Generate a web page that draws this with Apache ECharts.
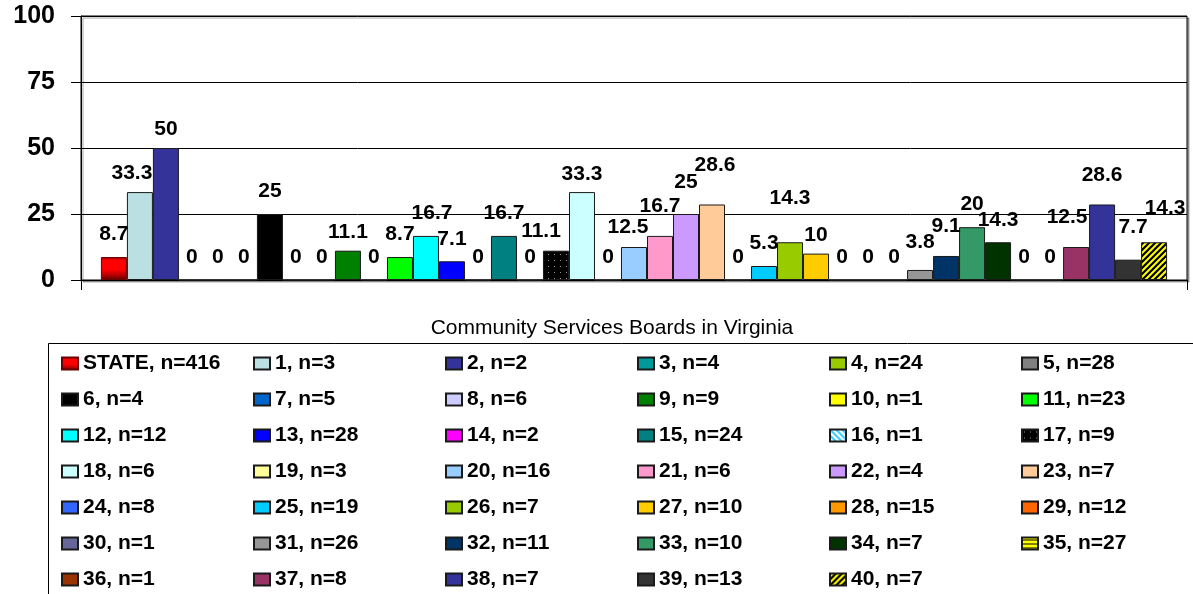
<!DOCTYPE html>
<html>
<head>
<meta charset="utf-8">
<title>Community Services Boards in Virginia</title>
<script src="https://cdn.jsdelivr.net/npm/echarts@6/dist/echarts.min.js"></script>
<style>
  html, body { margin: 0; padding: 0; background: #fff; }
  #chart { width: 1193px; height: 594px; }
</style>
</head>
<body>
<div id="chart"></div>
<script>
// Percentages by Community Services Board (STATE first, then boards 1-40)
const seriesNames = [
  'STATE, n=416', '1, n=3', '2, n=2', '3, n=4', '4, n=24', '5, n=28',
  '6, n=4', '7, n=5', '8, n=6', '9, n=9', '10, n=1', '11, n=23',
  '12, n=12', '13, n=28', '14, n=2', '15, n=24', '16, n=1', '17, n=9',
  '18, n=6', '19, n=3', '20, n=16', '21, n=6', '22, n=4', '23, n=7',
  '24, n=8', '25, n=19', '26, n=7', '27, n=10', '28, n=15', '29, n=12',
  '30, n=1', '31, n=26', '32, n=11', '33, n=10', '34, n=7', '35, n=27',
  '36, n=1', '37, n=8', '38, n=7', '39, n=13', '40, n=7'
];
const values = [
  8.7, 33.3, 50, 0, 0, 0,
  25, 0, 0, 11.1, 0, 8.7,
  16.7, 7.1, 0, 16.7, 0, 11.1,
  33.3, 0, 12.5, 16.7, 25, 28.6,
  0, 5.3, 14.3, 10, 0, 0,
  0, 3.8, 9.1, 20, 14.3, 0,
  0, 12.5, 28.6, 7.7, 14.3
];
const categories = [''];
const yTicks = { min: 0, max: 100, step: 25 };
const axisTitle = 'Community Services Boards in Virginia';

// ---- fills ----
function patternCanvas(size, draw) {
  const c = document.createElement('canvas');
  c.width = size; c.height = size;
  draw(c.getContext('2d'), size);
  return { image: c, repeat: 'repeat' };
}
const diagDown = (bg, fg) => patternCanvas(6, (g, s) => {
  g.fillStyle = bg; g.fillRect(0, 0, s, s);
  g.strokeStyle = fg; g.lineWidth = 2;
  g.beginPath();
  g.moveTo(-1, -1); g.lineTo(s + 1, s + 1);
  g.moveTo(-1, s - 1); g.lineTo(1, s + 1);
  g.moveTo(s - 1, -1); g.lineTo(s + 1, 1);
  g.stroke();
});
const diagUp = (bg, fg) => patternCanvas(6, (g, s) => {
  g.fillStyle = bg; g.fillRect(0, 0, s, s);
  g.strokeStyle = fg; g.lineWidth = 2.2;
  g.beginPath();
  g.moveTo(-1, s + 1); g.lineTo(s + 1, -1);
  g.moveTo(-1, 1); g.lineTo(1, -1);
  g.moveTo(s - 1, s + 1); g.lineTo(s + 1, s - 1);
  g.stroke();
});
const dots = patternCanvas(6, (g, s) => {
  g.fillStyle = '#000'; g.fillRect(0, 0, s, s);
  g.fillStyle = '#9a9a9a'; g.fillRect(2, 2, 1, 1);
});
const hStripes = patternCanvas(4, (g, s) => {
  g.fillStyle = '#FFFF00'; g.fillRect(0, 0, s, s);
  g.fillStyle = '#000'; g.fillRect(0, 2, s, 1);
});
const stateFill = {
  type: 'linear', x: 0, y: 0, x2: 0, y2: 1,
  colorStops: [
    { offset: 0, color: '#8B0000' },
    { offset: 0.15, color: '#FF0000' },
    { offset: 0.55, color: '#FF0000' },
    { offset: 0.8, color: '#B00000' },
    { offset: 1, color: '#5A0000' }
  ]
};

const palette = [
  stateFill, '#BBE0E3', '#333399', '#009999', '#99CC00', '#808080',
  '#000000', '#0066CC', '#CCCCFF', '#008000', '#FFFF00', '#00FF00',
  '#00FFFF', '#0000FF', '#FF00FF', '#008080', diagDown('#FFFFFF', '#33CCFF'), dots,
  '#CCFFFF', '#FFFF99', '#99CCFF', '#FF99CC', '#CC99FF', '#FFCC99',
  '#3366FF', '#00CCFF', '#99CC00', '#FFCC00', '#FF9900', '#FF6600',
  '#666699', '#969696', '#003366', '#339966', '#003300', hStripes,
  '#993300', '#993366', '#333399', '#333333', diagUp('#FFFF00', '#000000')
];

// hand-placed value labels that sit off their default spot (series index -> [dx, dy] in px)
const labelShift = {
  1: [-8, 4], 2: [0, 4], 9: [0, 4], 12: [6, 0], 17: [-15, 3], 18: [0, 5],
  20: [-6, 3], 21: [0, -7], 22: [0, -9], 23: [3, -17], 26: [0, -22],
  27: [0, 4], 31: [0, -5], 32: [0, -7], 37: [-9, -7], 38: [0, -7],
  39: [5, -10], 40: [11, -12]
};

const FONT = '"Liberation Sans", Arial, sans-serif';

const series = seriesNames.map((name, i) => ({
  name,
  type: 'bar',
  data: [values[i]],
  barGap: '0%',
  barCategoryGap: '3.6%',
  itemStyle: {
    color: palette[i],
    borderColor: i === 0 ? '#6A0000' : '#1a1a1a',
    borderWidth: 1
  },
  label: {
    show: true,
    position: 'top',
    distance: 12,
    offset: labelShift[i] || [0, 0],
    color: '#000',
    fontFamily: FONT,
    fontSize: 21,
    fontWeight: 'bold'
  },
  emphasis: { disabled: true }
}));

// legend laid out as six columns, read row by row
const LEGEND_COLS = 6;
const legends = [];
for (let c = 0; c < LEGEND_COLS; c++) {
  legends.push({
    data: seriesNames.filter((_, i) => i % LEGEND_COLS === c),
    orient: 'vertical',
    left: 61 + 192 * c,
    top: 353,
    padding: 0,
    itemGap: 15,
    itemWidth: 16,
    itemHeight: 12,
    icon: 'rect',
    selectedMode: false,
    textStyle: {
      fontFamily: FONT,
      fontSize: 21,
      fontWeight: 'bold',
      color: '#000',
      lineHeight: 21
    }
  });
}

const chart = echarts.init(document.getElementById('chart'), null, { renderer: 'canvas' });
chart.setOption({
  animation: false,
  backgroundColor: '#fff',
  grid: {
    left: 81, right: 6, top: 16, bottom: 314,
    show: true,
    borderColor: '#000',
    borderWidth: 1,
    backgroundColor: '#fff',
    shadowColor: 'rgba(0,0,0,0.35)',
    shadowOffsetX: 2,
    shadowOffsetY: 2,
    shadowBlur: 0
  },
  xAxis: {
    type: 'category',
    data: categories,
    name: axisTitle,
    nameLocation: 'middle',
    nameGap: 38,
    nameTextStyle: {
      fontFamily: FONT, fontSize: 21, color: '#000',
      padding: [0, 44, 0, 0]
    },
    axisLine: { show: true, lineStyle: { color: '#000', width: 1 } },
    axisTick: { show: true, length: 10, lineStyle: { color: '#000' } },
    axisLabel: { show: false }
  },
  yAxis: {
    type: 'value',
    min: yTicks.min,
    max: yTicks.max,
    interval: yTicks.step,
    axisLine: { show: true, lineStyle: { color: '#000', width: 1 } },
    axisTick: { show: true, length: 10, lineStyle: { color: '#000' } },
    axisLabel: {
      margin: 26,
      fontFamily: FONT, fontSize: 25, fontWeight: 'bold', color: '#000'
    },
    splitLine: { show: true, lineStyle: { color: '#000', width: 1 } }
  },
  legend: legends,
  graphic: [{
    type: 'rect',
    silent: true,
    z: -1,
    shape: { x: 48.5, y: 343.5, width: 1200, height: 300 },
    style: { fill: 'none', stroke: '#000', lineWidth: 1 }
  }],
  series
});
</script>
</body>
</html>
